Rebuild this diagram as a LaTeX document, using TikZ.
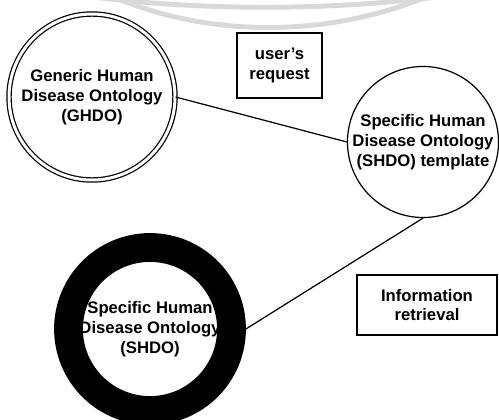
\documentclass[tikz,border=0pt]{standalone}
\usepackage{fontspec}
\setmainfont{Liberation Sans}
\usetikzlibrary{positioning}

\begin{document}
\begin{tikzpicture}[
    onto/.style={circle, draw=black, inner sep=0pt, align=center, font=\fontsize{9.5}{11.3}\selectfont\bfseries},
    box/.style={rectangle, draw=black, line width=0.7pt, align=center, font=\fontsize{9.5}{11.3}\selectfont\bfseries},
    link/.style={line width=0.7pt},
    faint/.style={draw=black!15, line width=2.8pt}
]
\useasboundingbox (0,0) rectangle (9.98,-8.4);

% Faint arcs along the top edge
\draw[faint] (1.7,0.08) .. controls (4.0,-0.22) and (6.6,-0.22) .. (8.9,0.08);
\draw[faint] (2.3,0.05) .. controls (4.2,-0.75) and (6.5,-0.75) .. (8.5,0.05);

% Ontologies
\node[onto, double, line width=0.7pt, double distance=1.7pt, minimum size=3.32cm] (ghdo) at (1.84,-1.94) {Generic Human\\Disease Ontology\\(GHDO)};
\node[onto, line width=0.7pt, minimum size=3cm] (tmpl) at (8.46,-2.84) {Specific Human\\Disease Ontology\\(SHDO) template};
\node[onto, line width=16.4pt, minimum size=3.26cm] (shdo) at (3.0,-6.58) {Specific Human\\Disease Ontology\\(SHDO)};

% Labels in boxes
\node[box, minimum width=1.7cm, minimum height=1.3cm] (request) at (5.59,-1.31) {user's\\request};
\node[box, minimum width=2.8cm, minimum height=1.2cm] (retrieval) at (8.54,-6.1) {Information\\retrieval};

% Connections
\draw[link] (ghdo.east) -- (tmpl.west);
\draw[link] (shdo.east) -- (tmpl.south);

\end{tikzpicture}
\end{document}
